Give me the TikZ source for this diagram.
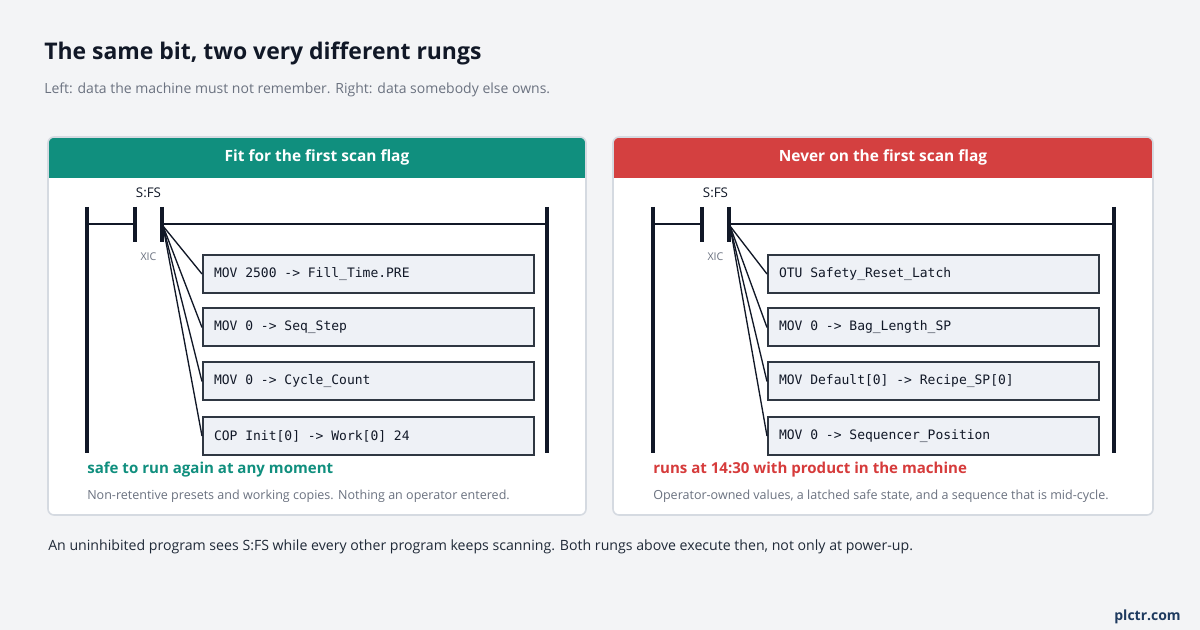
\documentclass[tikz,border=0pt]{standalone}
\usepackage{fontspec}
\setmainfont{Open Sans}
\setmonofont{DejaVu Sans Mono}
\definecolor{bg}{HTML}{F3F4F6}
\definecolor{ink}{HTML}{111827}
\definecolor{subgray}{HTML}{6B7280}
\definecolor{cardline}{HTML}{D5DAE1}
\definecolor{teal}{HTML}{108F7E}
\definecolor{redh}{HTML}{D44040}
\definecolor{redt}{HTML}{D63B3B}
\definecolor{boxfill}{HTML}{EEF1F6}
\definecolor{boxline}{HTML}{2F3742}
\definecolor{foot}{HTML}{1F2937}
\definecolor{navy}{HTML}{1E3A5F}
\newcommand\cmdtxt[1]{\makebox[231.75pt][l]{#1}}
\tikzset{
  cmd/.style={draw=boxline, line width=1.5pt, fill=boxfill, anchor=west,
    inner xsep=8.25pt, minimum height=28.5pt,
    font=\fontsize{9.75}{11}\ttfamily, text=ink},
  rail/.style={draw=ink, line width=2.4pt},
  wire/.style={draw=ink, line width=1.6pt},
  branch/.style={draw=ink, line width=1pt},
  hdr/.style={font=\fontsize{11.6}{13}\selectfont\bfseries, text=white},
  lbl/.style={font=\fontsize{10}{11}\selectfont, text=ink},
  xic/.style={font=\fontsize{8}{10}\selectfont, text=subgray},
  note/.style={font=\fontsize{9.4}{11}\selectfont, text=subgray, anchor=base west},
  verdict/.style={font=\fontsize{11.3}{13}\selectfont\bfseries, anchor=base west},
}
\begin{document}
\begin{tikzpicture}[x=0.75pt,y=-0.75pt]
\fill[bg] (0,0) rectangle (1200,630);
\useasboundingbox (0,0) rectangle (1200,630);

\node[anchor=base west, font=\fontsize{17.2}{19}\selectfont\bfseries, text=ink, inner sep=0] (title) at (44,60) {The same bit, two very different rungs};
\node[anchor=base west, font=\fontsize{10.5}{12}\selectfont, text=subgray, inner sep=0] (sub) at (44,94) {Left: data the machine must not remember. Right: data somebody else owns.};

% ---------- cards ----------
\foreach \xa/\xb/\hc in {48/586/teal, 613/1153/redh}{
  \fill[white, rounded corners=4.5pt] (\xa,137) rectangle (\xb,515);
  \begin{scope}
    \clip[rounded corners=4.5pt] (\xa,137) rectangle (\xb,515);
    \fill[\hc] (\xa,137) rectangle (\xb,178);
  \end{scope}
  \draw[cardline, line width=1.2pt, rounded corners=4.5pt] (\xa,137) rectangle (\xb,515);
}
\node[hdr] (hL) at (317,157) {Fit for the first scan flag};
\node[hdr] (hR) at (883,157) {Never on the first scan flag};

% ---------- left rung ----------
\draw[rail] (87,207) -- (87,453);
\draw[rail] (547,207) -- (547,453);
\draw[wire] (87,224) -- (135,224);
\draw[wire] (162,224) -- (547,224);
\draw[rail] (135,207) -- (135,242);
\draw[rail] (162,207) -- (162,242);
\node[lbl] (sfsL) at (148.5,193) {S:FS};
\node[xic] (xicL) at (148.5,257) {XIC};
\coordinate (cL) at (163,226);
\node[cmd] (L1) at (202,274) {\cmdtxt{MOV 2500 -> Fill\_Time.PRE}};
\node[cmd] (L2) at (202,327.5) {\cmdtxt{MOV 0 -> Seq\_Step}};
\node[cmd] (L3) at (202,381.5) {\cmdtxt{MOV 0 -> Cycle\_Count}};
\node[cmd] (L4) at (202,436) {\cmdtxt{COP Init[0] -> Work[0] 24}};
\foreach \b in {L1,L2,L3,L4} \draw[branch] (cL) -- (\b.west);
\node[verdict, text=teal, inner sep=0] (vL) at (87,474) {safe to run again at any moment};
\node[note, inner sep=0] (nL) at (87,500) {Non-retentive presets and working copies. Nothing an operator entered.};

% ---------- right rung ----------
\draw[rail] (653,207) -- (653,453);
\draw[rail] (1114,207) -- (1114,453);
\draw[wire] (653,224) -- (702,224);
\draw[wire] (729,224) -- (1114,224);
\draw[rail] (702,207) -- (702,242);
\draw[rail] (729,207) -- (729,242);
\node[lbl] (sfsR) at (715.5,193) {S:FS};
\node[xic] (xicR) at (715.5,257) {XIC};
\coordinate (cR) at (730,226);
\node[cmd] (R1) at (767,274) {\cmdtxt{OTU Safety\_Reset\_Latch}};
\node[cmd] (R2) at (767,327.5) {\cmdtxt{MOV 0 -> Bag\_Length\_SP}};
\node[cmd] (R3) at (767,381.5) {\cmdtxt{MOV Default[0] -> Recipe\_SP[0]}};
\node[cmd] (R4) at (767,436) {\cmdtxt{MOV 0 -> Sequencer\_Position}};
\foreach \b in {R1,R2,R3,R4} \draw[branch] (cR) -- (\b.west);
\node[verdict, text=redt, inner sep=0] (vR) at (653,474) {runs at 14:30 with product in the machine};
\node[note, inner sep=0] (nR) at (653,500) {Operator-owned values, a latched safe state, and a sequence that is mid-cycle.};

% ---------- footer ----------
\node[anchor=base west, font=\fontsize{10.6}{12}\selectfont, text=foot, inner sep=0] (foot) at (48,551) {An uninhibited program sees S:FS while every other program keeps scanning. Both rungs above execute then, not only at power-up.};
\node[anchor=base east, font=\fontsize{10.5}{12}\selectfont\bfseries, text=navy, inner sep=0] (brand) at (1181,620) {plctr.com};
\end{tikzpicture}
\end{document}
